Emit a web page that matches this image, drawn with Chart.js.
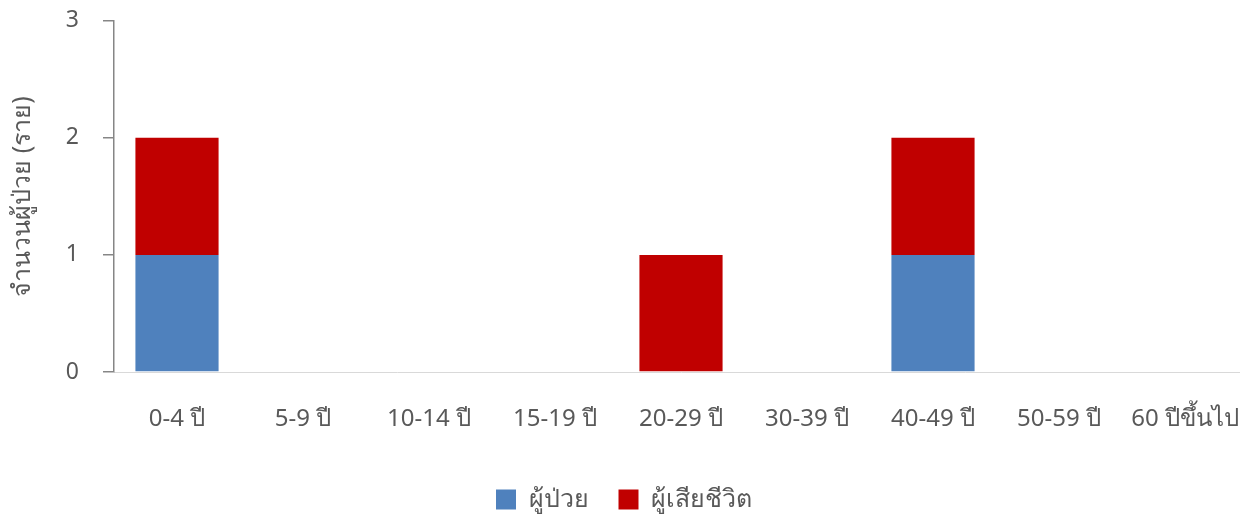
<!DOCTYPE html>
<html><head><meta charset="utf-8">
<script src="https://cdn.jsdelivr.net/npm/chart.js@4/dist/chart.umd.min.js"></script>
<style>
html,body{margin:0;padding:0;background:#fff;overflow:hidden;width:1240px;height:519px}
#wrap{position:absolute;left:0;top:-17px;width:1265px;height:539px}
</style></head>
<body>
<div id="wrap"><canvas id="c" width="1265" height="539"></canvas></div>
<script>
const categories = ["0-4 ปี","5-9 ปี","10-14 ปี","15-19 ปี","20-29 ปี","30-39 ปี","40-49 ปี","50-59 ปี","60 ปีขึ้นไป"];
const patients = [1,0,0,0,0,0,1,0,0];
const deaths = [1,0,0,0,1,0,1,0,0];
const seriesNames = ["ผู้ป่วย","ผู้เสียชีวิต"];
const yTitle = "จำนวนผู้ป่วย (ราย)";
const FONT = "Tahoma, 'Noto Sans', 'DejaVu Sans', sans-serif";
const gray = '#595959';

new Chart(document.getElementById('c'), {
  type: 'bar',
  data: {
    labels: categories,
    datasets: [
      {label: seriesNames[0], data: patients, backgroundColor: '#4F81BD', barPercentage: 0.66, categoryPercentage: 1},
      {label: seriesNames[1], data: deaths, backgroundColor: '#C00000', barPercentage: 0.66, categoryPercentage: 1}
    ]
  },
  options: {
    responsive: false,
    animation: false,
    layout: {padding: {left: 0, right: 17, top: 5, bottom: 0}},
    plugins: {
      tooltip: {enabled: false},
      legend: {
        position: 'bottom',
        labels: {boxWidth: 20, boxHeight: 20, padding: 30, color: gray, font: {family: FONT, size: 25}}
      }
    },
    scales: {
      x: {
        stacked: true,
        grid: {display: false},
        border: {display: true, color: '#d9d9d9', width: 1},
        ticks: {color: gray, font: {family: FONT, size: 24}, padding: 25, maxRotation: 0, autoSkip: false},
        afterFit: s => { s.height = 85; }
      },
      y: {
        stacked: true,
        min: 0, max: 3,
        ticks: {stepSize: 1, color: gray, font: {family: FONT, size: 23}, padding: 24},
        grid: {drawOnChartArea: false, drawTicks: true, tickLength: 11, color: '#868686', lineWidth: 1.5},
        border: {display: true, color: '#868686', width: 1.5},
        title: {display: true, text: yTitle, color: gray, font: {family: FONT, size: 25}, padding: {top: 8, bottom: 0}},
        afterFit: s => { s.width = 114; }
      }
    }
  }
});
</script>
</body></html>
